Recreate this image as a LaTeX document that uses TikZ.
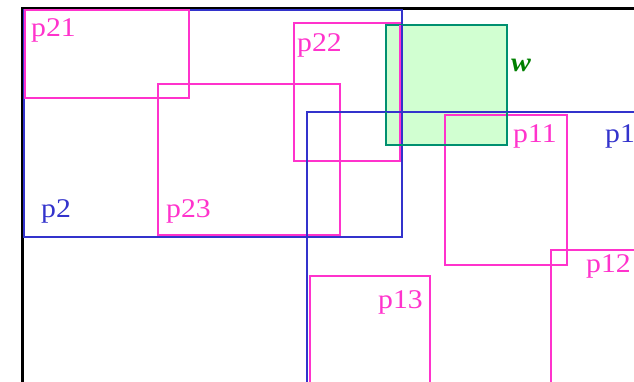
\documentclass[tikz,border=0pt]{standalone}
\usepackage{fontspec}
\usepackage{graphicx}
\setmainfont{Liberation Serif}
\definecolor{pblue}{HTML}{3333CC}
\definecolor{pmag}{HTML}{FF33CC}
\definecolor{wedge}{HTML}{009070}
\definecolor{wfill}{HTML}{CCFFCC}
\definecolor{wtext}{HTML}{008000}
\newcommand{\wide}[1]{\scalebox{1.1}[1]{#1}}
\begin{document}
\begin{tikzpicture}[x=1pt,y=-1pt,
  bluebox/.style={draw=pblue,line width=2.6pt},
  magbox/.style={draw=pmag,line width=2.6pt},
  bluelab/.style={text=pblue,anchor=base west,inner sep=0pt,font=\fontsize{27}{30}\selectfont},
  maglab/.style={text=pmag,anchor=base west,inner sep=0pt,font=\fontsize{27}{30}\selectfont}]
\useasboundingbox (0,0) rectangle (634,381);
\clip (0,0) rectangle (634,381);
\fill[white] (0,0) rectangle (634,381);
% outer frame
\draw[black,line width=3pt] (22,420) -- (22,8) -- (640,8);
% p2 and children
\draw[bluebox] (24,10) rectangle (402,237);
\draw[magbox] (25,10) rectangle (189,98);
\draw[magbox] (158,84) rectangle (340,235);
\draw[magbox] (294,23) rectangle (400,161);
% window w
\draw[draw=wedge,fill=wfill,fill opacity=0.9,line width=2.6pt] (386,25) rectangle (507,145);
% redraw overlapping edges over fill
\draw[magbox] (400,25) -- (400,145);
\draw[bluebox] (402,25) -- (402,145);
% p1 and children
\draw[bluebox] (307,420) -- (307,112) -- (640,112);
\draw[magbox] (445,115) rectangle (567,265);
\draw[magbox] (551,420) -- (551,250) -- (640,250);
\draw[magbox] (310,420) -- (310,276) -- (430,276) -- (430,420);
\draw[draw=wedge,line width=2.6pt] (386,112) -- (386,145) -- (507,145) -- (507,112);
% labels
\node[maglab] (l21) at (31,36) {\wide{p21}};
\node[maglab] (l22) at (297,51) {\wide{p22}};
\node[bluelab] (l2) at (41,217) {\wide{p2}};
\node[maglab] (l23) at (166,217) {\wide{p23}};
\node[maglab] (l11) at (513,142) {\wide{p11}};
\node[bluelab] (l1) at (605,142) {\wide{p1}};
\node[maglab] (l13) at (378,308) {\wide{p13}};
\node[maglab] (l12) at (586,272) {\wide{p12}};
\node[text=wtext,anchor=base west,inner sep=0pt,font=\fontsize{27}{30}\selectfont\bfseries\itshape] (lw) at (511,71) {\wide{w}};
\end{tikzpicture}
\end{document}
